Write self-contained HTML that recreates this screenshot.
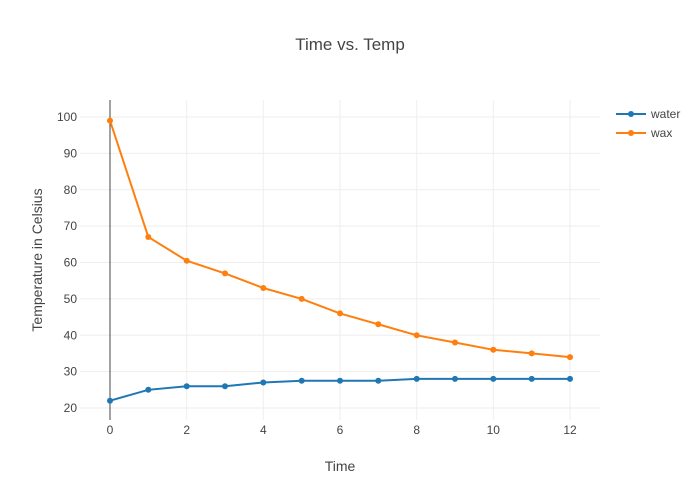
<!DOCTYPE html>
<html><head><meta charset="utf-8"><style>body{margin:0;background:#fff}svg{display:block;font-family:"Liberation Sans",sans-serif}</style></head><body>
<svg width="700" height="500" xmlns="http://www.w3.org/2000/svg">
<rect width="700" height="500" fill="#fff"/>
<g stroke="#eee" stroke-width="1">
<line x1="80" x2="600" y1="408" y2="408"/><line x1="80" x2="600" y1="371.6" y2="371.6"/><line x1="80" x2="600" y1="335.3" y2="335.3"/><line x1="80" x2="600" y1="298.9" y2="298.9"/><line x1="80" x2="600" y1="262.5" y2="262.5"/><line x1="80" x2="600" y1="226.1" y2="226.1"/><line x1="80" x2="600" y1="189.8" y2="189.8"/><line x1="80" x2="600" y1="153.4" y2="153.4"/><line x1="80" x2="600" y1="117" y2="117"/>
<line y1="100" y2="420" x1="186.7" x2="186.7"/><line y1="100" y2="420" x1="263.3" x2="263.3"/><line y1="100" y2="420" x1="340" x2="340"/><line y1="100" y2="420" x1="416.7" x2="416.7"/><line y1="100" y2="420" x1="493.3" x2="493.3"/><line y1="100" y2="420" x1="570" x2="570"/>
</g>
<line x1="110" x2="110" y1="100" y2="420" stroke="#444" stroke-width="1"/>
<g fill="#444" font-size="12" text-anchor="end">
<text x="77" y="412">20</text><text x="77" y="375.6">30</text><text x="77" y="339.3">40</text><text x="77" y="302.9">50</text><text x="77" y="266.5">60</text><text x="77" y="230.1">70</text><text x="77" y="193.8">80</text><text x="77" y="157.4">90</text><text x="77" y="121">100</text>
</g>
<g fill="#444" font-size="12" text-anchor="middle">
<text x="110" y="434">0</text><text x="186.7" y="434">2</text><text x="263.3" y="434">4</text><text x="340" y="434">6</text><text x="416.7" y="434">8</text><text x="493.3" y="434">10</text><text x="570" y="434">12</text>
</g>
<text x="350" y="50" font-size="17" fill="#444" text-anchor="middle">Time vs. Temp</text>
<text x="340" y="471" font-size="14" fill="#444" text-anchor="middle">Time</text>
<text transform="translate(42,260) rotate(-90)" font-size="14" fill="#444" text-anchor="middle">Temperature in Celsius</text>
<polyline fill="none" stroke="#1f77b4" stroke-width="2" points="110,400.7 148.3,389.8 186.7,386.2 225,386.2 263.3,382.5 301.7,380.7 340,380.7 378.3,380.7 416.7,378.9 455,378.9 493.3,378.9 531.7,378.9 570,378.9"/>
<g fill="#1f77b4"><circle cx="110" cy="400.7" r="3"/><circle cx="148.3" cy="389.8" r="3"/><circle cx="186.7" cy="386.2" r="3"/><circle cx="225" cy="386.2" r="3"/><circle cx="263.3" cy="382.5" r="3"/><circle cx="301.7" cy="380.7" r="3"/><circle cx="340" cy="380.7" r="3"/><circle cx="378.3" cy="380.7" r="3"/><circle cx="416.7" cy="378.9" r="3"/><circle cx="455" cy="378.9" r="3"/><circle cx="493.3" cy="378.9" r="3"/><circle cx="531.7" cy="378.9" r="3"/><circle cx="570" cy="378.9" r="3"/></g>
<polyline fill="none" stroke="#ff7f0e" stroke-width="2" points="110,120.6 148.3,237 186.7,260.7 225,273.4 263.3,288 301.7,298.9 340,313.4 378.3,324.3 416.7,335.3 455,342.5 493.3,349.8 531.7,353.4 570,357.1"/>
<g fill="#ff7f0e"><circle cx="110" cy="120.6" r="3"/><circle cx="148.3" cy="237" r="3"/><circle cx="186.7" cy="260.7" r="3"/><circle cx="225" cy="273.4" r="3"/><circle cx="263.3" cy="288" r="3"/><circle cx="301.7" cy="298.9" r="3"/><circle cx="340" cy="313.4" r="3"/><circle cx="378.3" cy="324.3" r="3"/><circle cx="416.7" cy="335.3" r="3"/><circle cx="455" cy="342.5" r="3"/><circle cx="493.3" cy="349.8" r="3"/><circle cx="531.7" cy="353.4" r="3"/><circle cx="570" cy="357.1" r="3"/></g>
<line x1="616" x2="646" y1="114" y2="114" stroke="#1f77b4" stroke-width="2"/><circle cx="631" cy="114" r="3" fill="#1f77b4"/>
<text x="651" y="118" font-size="12" fill="#444">water</text>
<line x1="616" x2="646" y1="133" y2="133" stroke="#ff7f0e" stroke-width="2"/><circle cx="631" cy="133" r="3" fill="#ff7f0e"/>
<text x="651" y="137" font-size="12" fill="#444">wax</text>
</svg>
</body></html>
